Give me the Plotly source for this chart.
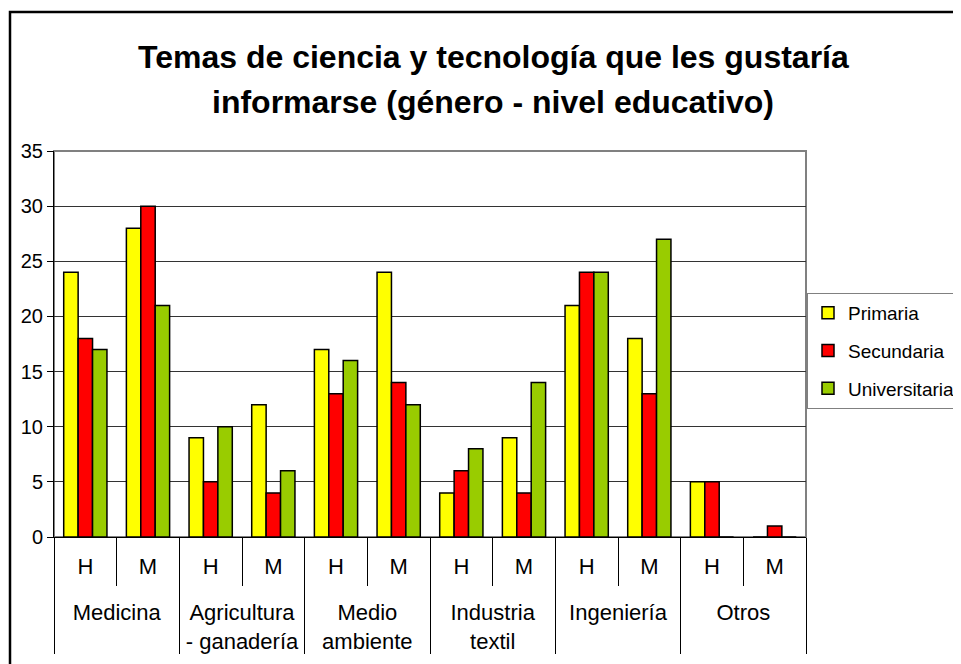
import plotly.graph_objects as go

topics = ["Medicina", "Agricultura<br>- ganadería", "Medio<br>ambiente", "Industria<br>textil", "Ingeniería", "Otros"]
sexes = ["H", "M"]
series_names = ["Primaria", "Secundaria", "Universitaria"]
primaria = [24, 28, 9, 12, 17, 24, 4, 9, 21, 18, 5, 0]
secundaria = [18, 30, 5, 4, 13, 14, 6, 4, 24, 13, 5, 1]
universitaria = [17, 21, 10, 6, 16, 12, 8, 14, 24, 27, 0, 0]
y_ticks = [0, 5, 10, 15, 20, 25, 30, 35]

colors = ["#FFFF00", "#FF0000", "#99CC00"]

outer = ["<br>" + t for t in topics for _ in sexes]
inner = [s for _ in topics for s in sexes]

FONT = "Liberation Sans, Arial, sans-serif"

fig = go.Figure()
for name, vals, col in zip(series_names, [primaria, secundaria, universitaria], colors):
    fig.add_trace(go.Bar(
        x=[outer, inner], y=vals, name=name, legendgroup=name,
        marker=dict(color=col, line=dict(color="black", width=1.5)),
    ))

OFF = 8  # page body margin
W, H = 961 - OFF, 664 - OFF
L = 54 - OFF
T = 151 - OFF
R = W - (806 - OFF)
B = H - (537 - OFF)
pw, ph = W - L - R, H - T - B

def px_x(p):
    return (p - OFF - L) / pw

def px_y(p):
    return (H - B - (p - OFF)) / ph

fig.update_layout(
    width=W, height=H,
    margin=dict(l=L, r=R, t=T, b=B, pad=0, autoexpand=False),
    paper_bgcolor="white", plot_bgcolor="white",
    barmode="group", bargap=0.31, bargroupgap=0,
    font=dict(family=FONT, size=20, color="black"),
    showlegend=True,
    legend=dict(
        x=px_x(807), y=px_y(293), xanchor="left", yanchor="top",
        bordercolor="#808080", borderwidth=1, bgcolor="white",
        font=dict(family=FONT, size=19, color="black"),
        traceorder="grouped", tracegroupgap=10, itemwidth=30,
    ),
    xaxis=dict(
        type="multicategory",
        showline=True, linecolor="black", linewidth=1,
        ticks="outside", tickson="boundaries", ticklen=48, tickcolor="black", tickwidth=1,
        showdividers=True, dividercolor="black", dividerwidth=1,
        ticklabelstandoff=10,
        tickfont=dict(family=FONT, size=22, color="black"),
        showgrid=False,
    ),
    yaxis=dict(
        range=[0, 35], tickvals=y_ticks,
        showline=True, linecolor="black", linewidth=1,
        ticks="outside", ticklen=6, tickcolor="black",
        showgrid=True, gridcolor="#333333", gridwidth=1,
        zeroline=False,
        tickfont=dict(family=FONT, size=20, color="black"),
    ),
    shapes=[
        dict(type="rect", xref="paper", yref="paper", x0=0, x1=1, y0=0, y1=1,
             line=dict(color="#808080", width=2), layer="below"),
        dict(type="rect", xref="paper", yref="paper",
             x0=px_x(10), x1=px_x(1000), y0=px_y(700), y1=px_y(12),
             line=dict(color="black", width=2.5), layer="above"),
    ],
    annotations=[
        dict(text="<b>Temas de ciencia y tecnología que les gustaría</b>",
             xref="paper", yref="paper", x=px_x(493), y=px_y(57),
             showarrow=False, xanchor="center", yanchor="middle",
             font=dict(family=FONT, size=32, color="black")),
        dict(text="<b>informarse (género - nivel educativo)</b>",
             xref="paper", yref="paper", x=px_x(493), y=px_y(102),
             showarrow=False, xanchor="center", yanchor="middle",
             font=dict(family=FONT, size=32, color="black")),
    ],
)

fig.write_html("out.html")
